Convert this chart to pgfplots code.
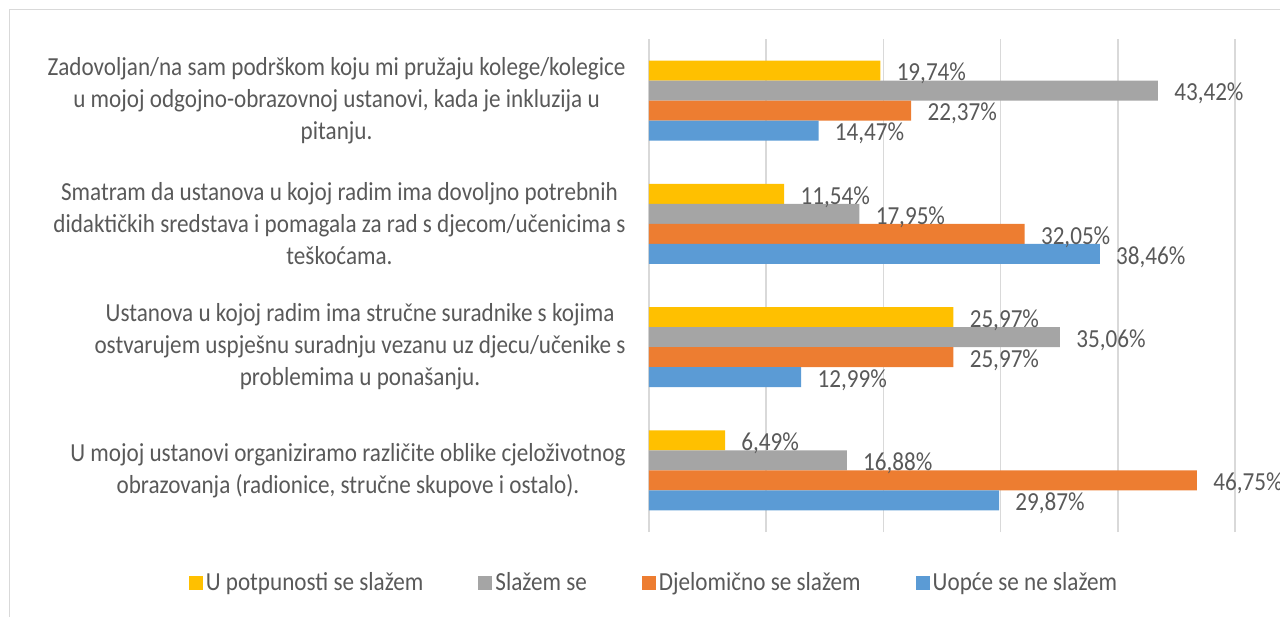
\documentclass[border=0pt]{standalone}
\usepackage{pgfplots}
\pgfplotsset{compat=1.18}
\usepackage{fontspec}
\setmainfont{Carlito}[FakeStretch=0.89]
\definecolor{cyel}{HTML}{FFC000}
\definecolor{cgry}{HTML}{A5A5A5}
\definecolor{corg}{HTML}{ED7D31}
\definecolor{cblu}{HTML}{5B9BD5}
\definecolor{gridc}{HTML}{D9D9D9}
\definecolor{txt}{HTML}{595959}
\begin{document}
\begin{tikzpicture}
\useasboundingbox (0,0) rectangle (640pt,308pt);
\draw[gridc, line width=0.75pt] (4.75pt,-5pt) -- (4.75pt,303.25pt) -- (650pt,303.25pt);
\begin{axis}[
  at={(324.5pt,42pt)}, anchor=south west,
  scale only axis, width=293pt, height=246.5pt,
  xmin=0, xmax=50, ymin=-0.5, ymax=3.5,
  xbar, bar width=10pt,
  axis line style={draw=none},
  xtick={0,10,...,50}, xticklabels={},
  xmajorgrids, grid style={gridc, line width=0.75pt},
  major tick length=0pt,
  ytick={0,1,2,3},
  yticklabels={
    {U mojoj ustanovi organiziramo različite oblike cjeloživotnog\\obrazovanja (radionice, stručne skupove i ostalo).},
    {Ustanova u kojoj radim ima stručne suradnike s kojima\\ostvarujem uspješnu suradnju vezanu uz djecu/učenike s\\problemima u ponašanju.},
    {Smatram da ustanova u kojoj radim ima dovoljno potrebnih\\didaktičkih sredstava i pomagala za rad s djecom/učenicima s\\teškoćama.},
    {Zadovoljan/na sam podrškom koju mi pružaju kolege/kolegice\\u mojoj odgojno-obrazovnoj ustanovi, kada je inkluzija u\\pitanju.}},
  yticklabel style={align=center, text=txt, inner sep=0pt, xshift=-11.5pt,
    font=\fontsize{13}{16}\selectfont},
  point meta=x,
  nodes near coords={\pgfmathprintnumber[fixed,fixed zerofill,precision=2,use comma,assume math mode=true]{\pgfplotspointmeta}\%},
  nodes near coords style={anchor=west, inner sep=0pt, xshift=8pt, yshift=-1.5pt, text=txt,
    font=\fontsize{13}{16}\selectfont},
  legend columns=4,
  legend style={at={(axis description cs:0.0094,-0.1034)}, anchor=center, draw=none,
    font=\fontsize{13}{16}\selectfont, text=txt,
    /tikz/every even column/.append style={column sep=26pt},
    nodes={inner sep=1.5pt}},
  legend image code/.code={\fill[#1,draw=none] (0pt,-3.5pt) rectangle (7pt,3.5pt);},
]
\addplot[fill=cyel, draw=none, bar shift=15pt] coordinates {(6.49,0) (25.97,1) (11.54,2) (19.74,3)};
\addplot[fill=cgry, draw=none, bar shift=5pt] coordinates {(16.88,0) (35.06,1) (17.95,2) (43.42,3)};
\addplot[fill=corg, draw=none, bar shift=-5pt] coordinates {(46.75,0) (25.97,1) (32.05,2) (22.37,3)};
\addplot[fill=cblu, draw=none, bar shift=-15pt] coordinates {(29.87,0) (12.99,1) (38.46,2) (14.47,3)};
\legend{U potpunosti se slažem, Slažem se, Djelomično se slažem, Uopće se ne slažem}
\end{axis}
\end{tikzpicture}
\end{document}
